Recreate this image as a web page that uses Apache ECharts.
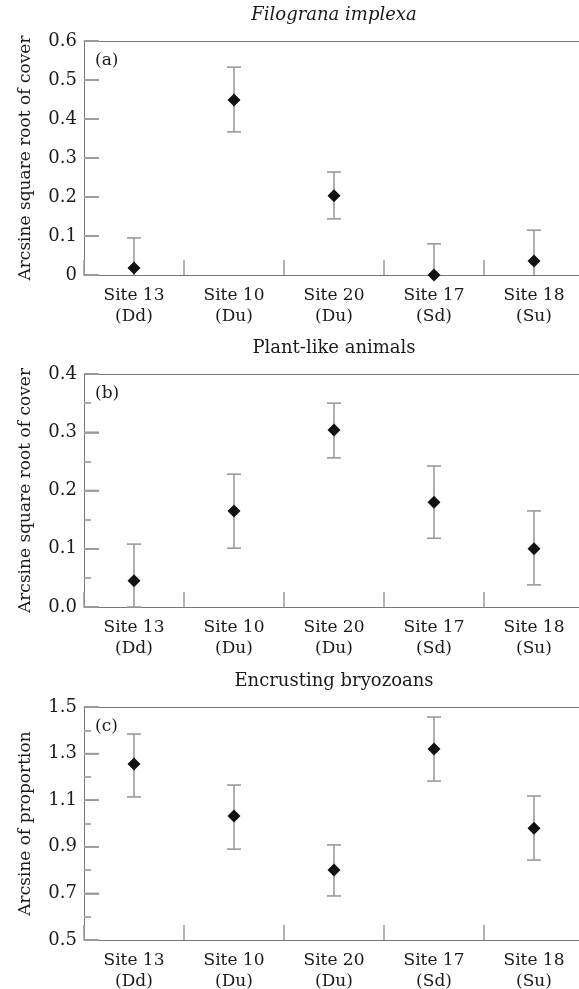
<!DOCTYPE html>
<html lang="en">
<head>
    <meta charset="UTF-8">
    <title>Site comparison</title>
    <style>
        html, body { margin: 0; padding: 0; background: #fff; }
        #chart { width: 579px; height: 989px; }
    </style>
    <script type="text/javascript" src="https://cdn.jsdelivr.net/npm/echarts@6/dist/echarts.min.js"></script>
</head>
<body>
<div id="chart"></div>

<script>
    // categories
    var sites = ['Site 13\n(Dd)', 'Site 10\n(Du)', 'Site 20\n(Du)', 'Site 17\n(Sd)', 'Site 18\n(Su)'];

    // (a) Filograna implexa
    var meanA = [0.018, 0.449, 0.203, 0.0, 0.036];
    var highA = [0.095, 0.533, 0.264, 0.080, 0.115];
    var lowA = [-0.059, 0.367, 0.144, -0.080, -0.044];
    var ticksA = ['0', '0.1', '0.2', '0.3', '0.4', '0.5', '0.6'];

    // (b) Plant-like animals
    var meanB = [0.045, 0.165, 0.304, 0.180, 0.100];
    var highB = [0.108, 0.228, 0.350, 0.242, 0.165];
    var lowB = [0.0, 0.101, 0.256, 0.118, 0.038];
    var ticksB = ['0.0', '0.1', '0.2', '0.3', '0.4'];

    // (c) Encrusting bryozoans
    var meanC = [1.255, 1.032, 0.800, 1.320, 0.980];
    var highC = [1.384, 1.165, 0.908, 1.457, 1.118];
    var lowC = [1.114, 0.890, 0.689, 1.182, 0.843];
    var ticksC = ['0.5', '0.7', '0.9', '1.1', '1.3', '1.5'];

    var SERIF = 'DejaVu Serif';
    var TEXT = '#1a1a1a';
    var AXIS = '#777777';
    var TICK = '#999999';

    var chart = echarts.init(document.getElementById('chart'));

    var panels = [
        {title: 'Filograna implexa', italic: true, tag: '(a)', top: 41, height: 234,
            min: 0, max: 0.6, interval: 0.1, minor: false, ticks: ticksA,
            name: 'Arcsine square root of cover', mean: meanA, high: highA, low: lowA},
        {title: 'Plant-like animals', italic: false, tag: '(b)', top: 374, height: 233,
            min: 0, max: 0.4, interval: 0.1, minor: true, ticks: ticksB,
            name: 'Arcsine square root of cover', mean: meanB, high: highB, low: lowB},
        {title: 'Encrusting bryozoans', italic: false, tag: '(c)', top: 707, height: 233,
            min: 0.5, max: 1.5, interval: 0.2, minor: true, ticks: ticksC,
            name: 'Arcsine of proportion', mean: meanC, high: highC, low: lowC}
    ];

    // error bar: vertical line + caps, lower part clipped at the axis minimum
    function errorBars(min) {
        return function (params, api) {
            var x = api.value(0);
            var lo = api.value(1);
            var hi = api.value(2);
            var capLo = lo >= min;
            if (lo < min) lo = min;
            var top = api.coord([x, hi]);
            var bot = api.coord([x, lo]);
            var w = 7;
            var st = {stroke: '#9a9a9a', lineWidth: 1.6};
            var kids = [
                {type: 'line', shape: {x1: top[0], y1: top[1], x2: bot[0], y2: bot[1]}, style: st},
                {type: 'line', shape: {x1: top[0] - w, y1: top[1], x2: top[0] + w, y2: top[1]}, style: st}
            ];
            if (capLo) {
                kids.push({type: 'line', shape: {x1: bot[0] - w, y1: bot[1], x2: bot[0] + w, y2: bot[1]}, style: st});
            }
            return {type: 'group', children: kids};
        };
    }

    // major y ticks, drawn inward from the left axis at each labelled value
    function tickMarks(len) {
        return function (params, api) {
            var v = api.value(1);
            var c0 = api.coord([0, v]);
            var c1 = api.coord([1, v]);
            var x0 = c0[0] - (c1[0] - c0[0]) / 2;
            return {
                type: 'line', z2: 10,
                shape: {x1: x0, y1: c0[1], x2: x0 + len, y2: c0[1]},
                style: {stroke: TICK, lineWidth: 1.6}
            };
        };
    }

    function tickFormatter(p) {
        return function (v) {
            return p.ticks[Math.round((v - p.min) / p.interval)];
        };
    }

    var grids = [], xAxes = [], yAxes = [], series = [], graphics = [];

    panels.forEach(function (p, i) {
        grids.push({left: 84, top: p.top, width: 500, height: p.height, outerBoundsMode: 'none'});
        // bottom axis with category labels
        xAxes.push({
            type: 'category', gridIndex: i, position: 'bottom', data: sites, boundaryGap: true,
            axisLine: {show: true, lineStyle: {color: AXIS, width: 1}},
            axisTick: {show: true, inside: true, length: 15, lineStyle: {color: TICK, width: 1.5}},
            axisLabel: {fontFamily: SERIF, fontSize: 17, color: TEXT, lineHeight: 21, margin: 10},
            splitLine: {show: false}
        });
        // top frame line
        xAxes.push({
            type: 'category', gridIndex: i, position: 'top', data: sites,
            axisLine: {show: true, lineStyle: {color: AXIS, width: 1}},
            axisTick: {show: false}, axisLabel: {show: false}, splitLine: {show: false}
        });
        var y = {
            type: 'value', gridIndex: i, min: p.min, max: p.max, interval: p.interval,
            name: p.name, nameLocation: 'middle', nameGap: 50,
            nameTextStyle: {fontFamily: SERIF, fontSize: 17, color: TEXT},
            axisLine: {show: true, lineStyle: {color: AXIS, width: 1}},
            axisTick: {show: true, inside: true, length: 15, lineStyle: {color: TICK, width: 1.6}},
            axisLabel: {fontFamily: SERIF, fontSize: 18, color: TEXT, margin: 7, formatter: tickFormatter(p)},
            splitLine: {show: false}
        };
        if (p.minor) {
            y.minorTick = {show: true, splitNumber: 2, length: 7, lineStyle: {color: TICK, width: 1.6}};
        }
        yAxes.push(y);
        series.push({
            type: 'custom', xAxisIndex: i * 2, yAxisIndex: i, silent: true, z: 5,
            renderItem: tickMarks(15),
            encode: {x: 0, y: 1},
            data: p.ticks.map(function (t) { return [0, parseFloat(t)]; })
        });
        series.push({
            type: 'custom', xAxisIndex: i * 2, yAxisIndex: i,
            renderItem: errorBars(p.min),
            encode: {x: 0, y: [1, 2]},
            data: p.mean.map(function (m, j) { return [j, p.low[j], p.high[j]]; })
        });
        series.push({
            type: 'scatter', xAxisIndex: i * 2, yAxisIndex: i,
            symbol: 'diamond', symbolSize: 13,
            itemStyle: {color: '#111111', opacity: 1},
            data: p.mean.map(function (m, j) { return [j, m]; })
        });
        graphics.push({
            type: 'text', x: 334, y: p.top - 26,
            style: {
                text: p.title, fontFamily: SERIF, fontSize: 18,
                fontStyle: p.italic ? 'italic' : 'normal',
                fill: TEXT, align: 'center', verticalAlign: 'middle'
            }
        });
        graphics.push({
            type: 'text', x: 95, y: p.top + 20,
            style: {
                text: p.tag, fontFamily: SERIF, fontSize: 17,
                fill: TEXT, align: 'left', verticalAlign: 'middle'
            }
        });
    });

    var option = {
        animation: false,
        backgroundColor: '#ffffff',
        grid: grids,
        xAxis: xAxes,
        yAxis: yAxes,
        series: series,
        graphic: graphics
    };
    chart.setOption(option);
</script>
</body>
</html>
